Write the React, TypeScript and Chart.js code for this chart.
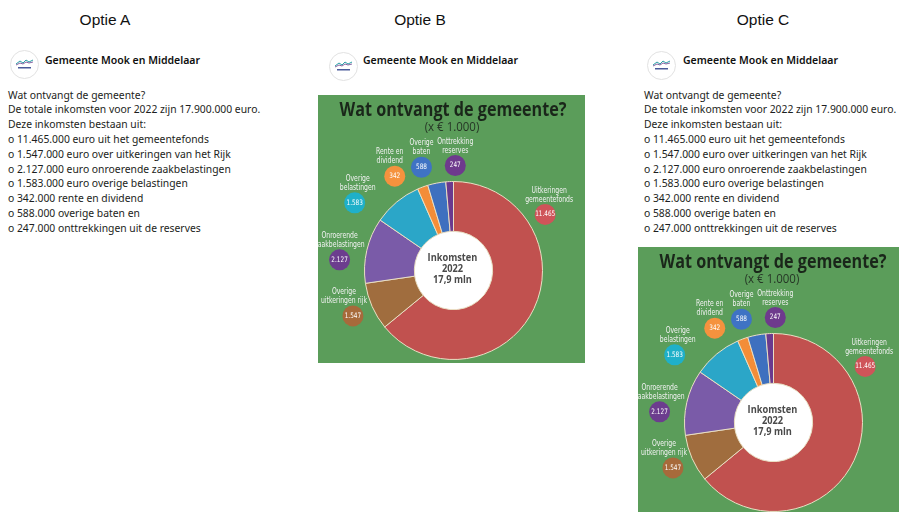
import React, { useEffect, useRef } from "react";
import { Chart, registerables } from "chart.js";
Chart.register(...registerables);

// ---- data ----
const categories = [
  "Uitkeringen gemeentefonds",
  "Overige uitkeringen rijk",
  "Onroerende zaakbelastingen",
  "Overige belastingen",
  "Rente en dividend",
  "Overige baten",
  "Onttrekking reserves",
];
const values = [11465, 1547, 2127, 1583, 342, 588, 247];
const valueLabels = ["11.465", "1.547", "2.127", "1.583", "342", "588", "247"];
const labelLines = [
  ["Uitkeringen", "gemeentefonds"],
  ["Overige", "uitkeringen rijk"],
  ["Onroerende", "zaakbelastingen"],
  ["Overige", "belastingen"],
  ["Rente en", "dividend"],
  ["Overige", "baten"],
  ["Onttrekking", "reserves"],
];
const chartTitle = "Wat ontvangt de gemeente?";
const chartSubtitle = "(x € 1.000)";
const centerLines = ["Inkomsten", "2022", "17,9 mln"];
const pageName = "Gemeente Mook en Middelaar";
const optionNames = ["Optie A", "Optie B", "Optie C"];
const postLines = [
  "Wat ontvangt de gemeente?",
  "De totale inkomsten voor 2022 zijn 17.900.000 euro.",
  "Deze inkomsten bestaan uit:",
  "o 11.465.000 euro uit het gemeentefonds",
  "o 1.547.000 euro over uitkeringen van het Rijk",
  "o 2.127.000 euro onroerende zaakbelastingen",
  "o 1.583.000 euro overige belastingen",
  "o 342.000 rente en dividend",
  "o 588.000 overige baten en",
  "o 247.000 onttrekkingen uit de reserves",
];

// ---- styles ----
const sliceColors = ["#c1514f", "#a06d3e", "#7a5ba8", "#2ba6c8", "#f38d38", "#3e70bf", "#6b3a8e"];
const bubbleColors = ["#cf5459", "#a76a3b", "#6c3d8e", "#1fb0c9", "#f5923e", "#3f73c4", "#6e3a8d"];
// bubble offsets in units of outer radius, plus label x shift (px)
const bubblePos = [
  [1.03, -0.63, 4],
  [-1.13, 0.51, -9],
  [-1.28, -0.12, 0],
  [-1.11, -0.76, 3],
  [-0.66, -1.06, -5],
  [-0.36, -1.16, 0],
  [0.02, -1.18, 0],
];
const GREEN = "#5b9d5a";
const BOX_W = 267;
const BOX_H = 268;
const SMALL_FONT = '"Liberation Sans Narrow", "DejaVu Sans Condensed", Roboto, sans-serif';

function narrowText(ctx: any, t: string, x: number, y: number, f: number) {
  ctx.fillText(t, x, y, ctx.measureText(t).width * f);
}

const panelPlugin = {
  id: "panel",
  beforeDraw(chart: any) {
    const { ctx, width, height } = chart;
    ctx.save();
    ctx.fillStyle = GREEN;
    ctx.fillRect(0, 0, width, height);
    ctx.textAlign = "center";
    ctx.textBaseline = "middle";
    ctx.fillStyle = "#1a261a";
    ctx.font = 'bold 19.5px "Open Sans", sans-serif';
    ctx.fillText(chartTitle, 135, 15, 227);
    ctx.fillStyle = "#263626";
    ctx.font = '13.5px "Open Sans", sans-serif';
    narrowText(ctx, chartSubtitle, 134, 32, 0.85);
    ctx.restore();
  },
  beforeDatasetsDraw(chart: any) {
    const arc = chart.getDatasetMeta(0).data[0];
    if (!arc) return;
    const { ctx } = chart;
    ctx.save();
    ctx.fillStyle = "#ffffff";
    ctx.beginPath();
    ctx.arc(arc.x, arc.y, arc.innerRadius + 0.5, 0, Math.PI * 2);
    ctx.fill();
    ctx.restore();
  },
  afterDatasetsDraw(chart: any) {
    const arc = chart.getDatasetMeta(0).data[0];
    if (!arc) return;
    const { ctx } = chart;
    const cx = arc.x;
    const cy = arc.y;
    const R = arc.outerRadius;
    ctx.save();
    ctx.textAlign = "center";
    ctx.textBaseline = "middle";
    ctx.fillStyle = "#4a4a4a";
    ctx.font = 'bold 10.5px "Open Sans", sans-serif';
    centerLines.forEach((t, i) => narrowText(ctx, t, cx - 1, cy - 12 + i * 11, 0.88));

    values.forEach((_, i) => {
      const [dx, dy, lx] = bubblePos[i];
      const bx = cx + dx * R;
      const by = cy + dy * R;
      ctx.fillStyle = bubbleColors[i];
      ctx.beginPath();
      ctx.arc(bx, by, 10.5, 0, Math.PI * 2);
      ctx.fill();
      ctx.fillStyle = "#ffffff";
      ctx.font = `7.5px ${SMALL_FONT}`;
      narrowText(ctx, valueLabels[i], bx, by, 0.85);
      ctx.fillStyle = "#f2f2f2";
      ctx.font = `8px ${SMALL_FONT}`;
      labelLines[i].forEach((t, j) => narrowText(ctx, t, bx + lx, by - 24 + j * 9, 0.85));
    });
    ctx.restore();
  },
};

function DonutPanel() {
  const ref = useRef<HTMLCanvasElement>(null);
  useEffect(() => {
    if (!ref.current) return;
    const chart = new Chart(ref.current, {
      type: "doughnut",
      data: {
        labels: categories,
        datasets: [
          {
            data: values,
            backgroundColor: sliceColors,
            borderColor: "#eadfc4",
            borderWidth: 1,
          },
        ],
      },
      options: {
        responsive: false,
        animation: false,
        cutout: "44%",
        layout: { padding: { left: 46, right: 42, top: 86, bottom: 3 } },
        plugins: { legend: { display: false }, tooltip: { enabled: false } },
      },
      plugins: [panelPlugin],
    });
    return () => chart.destroy();
  }, []);
  return <canvas ref={ref} width={BOX_W} height={BOX_H} style={{ display: "block" }} />;
}

function Logo({ x, y }: { x: number; y: number }) {
  return (
    <div
      style={{
        position: "absolute",
        left: x - 14,
        top: y - 14,
        width: 27,
        height: 27,
        borderRadius: "50%",
        border: "1px solid #e2e2e2",
        background: "#fff",
      }}
    >
      <svg width="27" height="27" viewBox="0 0 27 27">
        <path d="M5 13 L9 10 L12 12 L15 9 L18 11 L22 9" stroke="#2a9fa6" strokeWidth="1" fill="none" />
        <path d="M5 14 L9 12 L12 13 L15 11 L18 12 L22 11" stroke="#6a3f8c" strokeWidth="0.8" fill="none" />
        <rect x="7" y="16" width="13" height="1.5" fill="#4a5a9a" />
      </svg>
    </div>
  );
}

const postFont = '"Noto Sans", "Open Sans", sans-serif';

function Header({ x, y, lx, ly }: { x: number; y: number; lx: number; ly: number }) {
  return (
    <>
      <Logo x={lx} y={ly} />
      <div
        style={{
          position: "absolute",
          left: x,
          top: y - 9,
          height: 18,
          lineHeight: "18px",
          fontFamily: postFont,
          fontSize: 10.5,
          fontWeight: 600,
          color: "#101010",
          whiteSpace: "nowrap",
        }}
      >
        {pageName}
      </div>
    </>
  );
}

function PostText({ x }: { x: number }) {
  return (
    <div
      style={{
        position: "absolute",
        left: x,
        top: 95 - 7.4,
        fontFamily: postFont,
        fontSize: 10.35,
        lineHeight: "14.8px",
        color: "#1c1e21",
        whiteSpace: "nowrap",
      }}
    >
      {postLines.map((l, i) => (
        <div key={i} style={{ height: 14.8 }}>
          {l}
        </div>
      ))}
    </div>
  );
}

export default function App() {
  const optCenters = [105, 420, 763];
  return (
    <div
      style={{
        position: "fixed",
        left: 0,
        top: 0,
        width: 899,
        height: 512,
        overflow: "hidden",
        background: "#ffffff",
      }}
    >
      {optionNames.map((n, i) => (
        <div
          key={n}
          style={{
            position: "absolute",
            left: optCenters[i] - 60,
            width: 120,
            top: 10,
            height: 20,
            lineHeight: "20px",
            textAlign: "center",
            fontFamily: '"Liberation Sans", Arial, sans-serif',
            fontSize: 15.5,
            color: "#111",
          }}
        >
          {n}
        </div>
      ))}

      {/* Optie A */}
      <Header x={45} y={60} lx={24} ly={64} />
      <PostText x={8} />

      {/* Optie B */}
      <Header x={363} y={60} lx={343} ly={66} />
      <div style={{ position: "absolute", left: 318, top: 95 }}>
        <DonutPanel />
      </div>

      {/* Optie C */}
      <Header x={683} y={60} lx={661} ly={65} />
      <PostText x={644} />
      <div style={{ position: "absolute", left: 638, top: 247 }}>
        <DonutPanel />
      </div>
    </div>
  );
}
